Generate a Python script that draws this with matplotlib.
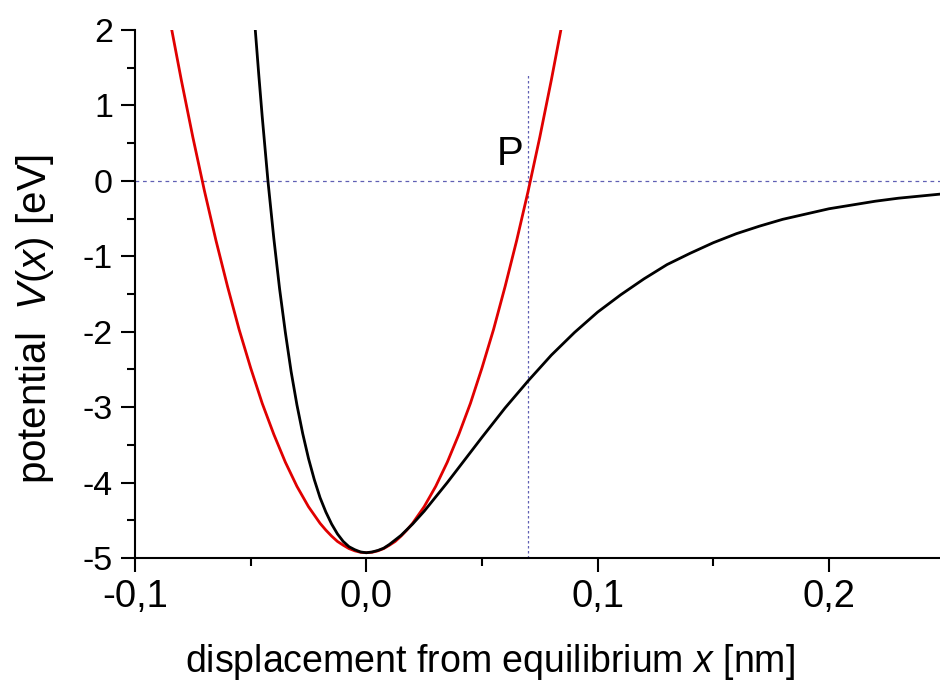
import matplotlib
matplotlib.use('Agg')
import matplotlib.pyplot as plt
from matplotlib.ticker import MultipleLocator, FuncFormatter

plt.rcParams['font.family'] = ['Liberation Sans', 'DejaVu Sans']
plt.rcParams['mathtext.fontset'] = 'custom'
plt.rcParams['mathtext.rm'] = 'Liberation Sans'
plt.rcParams['mathtext.it'] = 'Liberation Sans:italic'

x_black = [-0.048, -0.0465, -0.045, -0.0425, -0.04, -0.0375, -0.035, -0.0325, -0.03,
           -0.0275, -0.025, -0.0225, -0.02, -0.0175, -0.015, -0.0125, -0.01, -0.0075,
           -0.005, -0.0025, 0.0, 0.0025, 0.005, 0.0075, 0.01, 0.0125, 0.015, 0.02, 0.025,
           0.03, 0.035, 0.04, 0.045, 0.05, 0.06, 0.07, 0.08, 0.09, 0.10, 0.11, 0.12,
           0.13, 0.14, 0.15, 0.16, 0.17, 0.18, 0.19, 0.20, 0.21, 0.22, 0.23, 0.24, 0.25]
v_black = [2.0, 1.41, 0.85, -0.01, -0.76, -1.43, -2.01, -2.53, -2.97,
           -3.35, -3.68, -3.96, -4.20, -4.39, -4.55, -4.68, -4.78, -4.85,
           -4.89, -4.92, -4.93, -4.92, -4.90, -4.87, -4.82, -4.76, -4.70, -4.55, -4.38,
           -4.19, -4.00, -3.80, -3.60, -3.40, -3.01, -2.65, -2.31, -2.01, -1.74, -1.51, -1.30,
           -1.11, -0.96, -0.82, -0.70, -0.60, -0.51, -0.44, -0.37, -0.32, -0.27, -0.23, -0.20, -0.17]

# red curve (harmonic approximation)
x_red = [-0.0841, -0.08, -0.075, -0.07, -0.065, -0.06, -0.055, -0.05, -0.045, -0.04,
         -0.035, -0.03, -0.025, -0.0225, -0.02, -0.0175, -0.015, -0.0125, -0.01, -0.0075,
         -0.005, -0.0025, 0.0, 0.0025, 0.005, 0.0075, 0.01, 0.0125, 0.015, 0.0175,
         0.02, 0.0225, 0.025, 0.03, 0.035, 0.04, 0.045, 0.05, 0.055, 0.06, 0.065, 0.07,
         0.075, 0.08, 0.0841]
v_red = [2.0, 1.34, 0.58, -0.13, -0.79, -1.40, -1.97, -2.48, -2.95, -3.36,
         -3.73, -4.05, -4.32, -4.43, -4.54, -4.63, -4.71, -4.78, -4.83, -4.875,
         -4.905, -4.924, -4.93, -4.924, -4.905, -4.875, -4.83, -4.78, -4.71, -4.63,
         -4.54, -4.43, -4.32, -4.05, -3.73, -3.36, -2.95, -2.48, -1.97, -1.40, -0.79, -0.13,
         0.58, 1.34, 2.0]

p_x = 0.07
p_top = 1.43

fig = plt.figure(figsize=(9.4, 6.88), dpi=100)
ax = fig.add_axes([135/940, 1 - 558/688, 805/940, 528/688])

ax.axhline(0, color='#6060b4', lw=0.9, ls=(0, (3, 3)), zorder=1)
ax.plot([p_x, p_x], [-5, p_top], color='#6060b4', lw=0.9, ls=(0, (2, 2)), zorder=1)
ax.plot(x_black, v_black, color='black', lw=2.0, zorder=3)
ax.plot(x_red, v_red, color='#e00000', lw=2.0, zorder=2)
ax.text(0.0623, 0.36, 'P', fontsize=29, ha='center', va='center')

ax.set_xlim(-0.1, 0.248)
ax.set_ylim(-5, 2)
for s in ['top', 'right']:
    ax.spines[s].set_visible(False)
for s in ['left', 'bottom']:
    ax.spines[s].set_linewidth(1.5)

ax.xaxis.set_major_locator(MultipleLocator(0.1))
ax.xaxis.set_minor_locator(MultipleLocator(0.05))
ax.yaxis.set_major_locator(MultipleLocator(1))
ax.yaxis.set_minor_locator(MultipleLocator(0.5))
ax.xaxis.set_major_formatter(FuncFormatter(lambda v, p: ('%.1f' % v).replace('.', ',')))
ax.yaxis.set_major_formatter(FuncFormatter(lambda v, p: '%d' % round(v)))
ax.tick_params(which='major', direction='out', length=10, width=1.5)
ax.tick_params(which='minor', direction='out', length=6, width=1.5)
ax.tick_params(axis='x', labelsize=27.5, pad=5)
ax.tick_params(axis='y', labelsize=24.5, pad=6)

fig.text(490/940, 1 - 662/688, r'displacement from equilibrium $\mathit{x}$ [nm]',
         fontsize=27, ha='center', va='center')
fig.text(35/940, 1 - 319/688, r'potential  $\mathit{V(x)}$ [eV]',
         fontsize=29, ha='center', va='center', rotation=90)

fig.savefig('out.png', dpi=100)
